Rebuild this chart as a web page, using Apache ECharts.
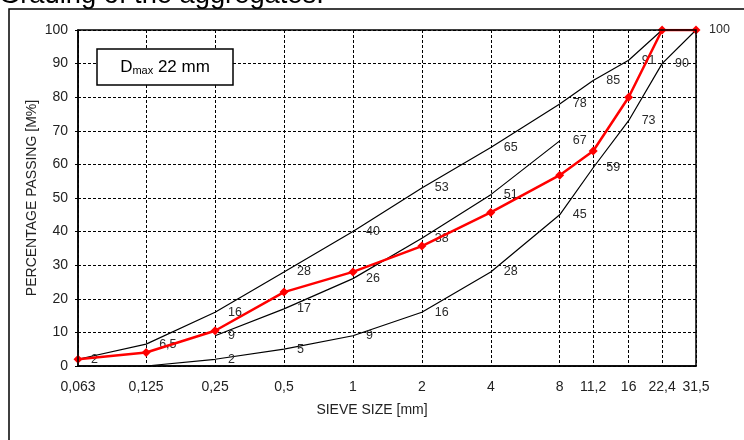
<!DOCTYPE html>
<html>
<head>
<meta charset="utf-8">
<script src="https://cdn.jsdelivr.net/npm/echarts@6/dist/echarts.min.js"></script>
<style>html,body{margin:0;padding:0;background:#fff}#c{width:744px;height:440px}</style>
</head>
<body>
<div id="c"></div>
<script>
var sieveSizes = [0.063, 0.125, 0.25, 0.5, 1, 2, 4, 8, 11.2, 16, 22.4, 31.5];
var sieveLabels = ['0,063', '0,125', '0,25', '0,5', '1', '2', '4', '8', '11,2', '16', '22,4', '31,5'];
var upperLimit = [2, 6.5, 16, 28, 40, 53, 65, 78, 85, 91, 100, 100];
var upperLabels = ['2', '6,5', '16', '28', '40', '53', '65', '78', '85', '91', '', '100'];
var middleCurve = [null, null, 9, 17, 26, 38, 51, 67, null, null, null, null];
var middleLabels = ['', '', '9', '17', '26', '38', '51', '67', '', '', '', ''];
var lowerLimit = [null, 0, 2, 5, 9, 16, 28, 45, 59, 73, 90, 100];
var lowerLabels = ['', '', '2', '5', '9', '16', '28', '45', '59', '73', '90', ''];
var mixCurve = [2, 4, 10.5, 22, 28, 35.7, 45.7, 56.8, 64, 80, 100, 100];
var yTicks = [0, 10, 20, 30, 40, 50, 60, 70, 80, 90, 100];

var FONT = 'Liberation Sans, Arial, sans-serif';
var xs = sieveSizes.map(function (s) { return Math.log2(s); });

function pts(vals) {
  var out = [];
  vals.forEach(function (v, i) { if (v !== null) out.push([xs[i], v, i]); });
  return out;
}
function xLabel(v) {
  var best = 0, d = Infinity;
  xs.forEach(function (x, i) { if (Math.abs(x - v) < d) { d = Math.abs(x - v); best = i; } });
  return sieveLabels[best];
}
function blackLine(vals, labels) {
  return {
    type: 'line',
    data: pts(vals),
    showSymbol: true,
    symbol: 'circle',
    symbolSize: 0.01,
    lineStyle: { color: '#000', width: 1.2 },
    itemStyle: { color: 'rgba(0,0,0,0)' },
    z: 3,
    label: {
      show: true,
      position: 'right',
      distance: 13,
      offset: [0, 1],
      color: '#2a2a2a',
      fontFamily: FONT,
      fontSize: 12.5,
      formatter: function (p) { return labels[p.data[2]]; }
    },
    labelLayout: { hideOverlap: false },
    animation: false
  };
}

var chart = echarts.init(document.getElementById('c'), null, { renderer: 'canvas' });
chart.setOption({
  animation: false,
  backgroundColor: '#fff',
  textStyle: { fontFamily: FONT },
  grid: { left: 78, right: 48, top: 30, bottom: 74, show: true, borderColor: '#000', borderWidth: 1.5, backgroundColor: 'transparent', z: 10 },
  xAxis: {
    type: 'value',
    min: xs[0],
    max: xs[xs.length - 1],
    name: 'SIEVE SIZE [mm]',
    nameLocation: 'middle',
    nameGap: 37,
    nameMoveOverlap: false,
    nameTextStyle: { color: '#222', fontSize: 14, fontFamily: FONT, padding: [0, 30, 0, 0] },
    axisLine: { show: true, onZero: false, lineStyle: { color: '#000', width: 1.5 } },
    axisTick: { show: false, customValues: xs },
    axisLabel: { customValues: xs, formatter: xLabel, color: '#222', fontSize: 14, fontFamily: FONT, margin: 14 },
    splitLine: { show: true, lineStyle: { color: '#000', width: 1, type: [3, 2] } }
  },
  yAxis: {
    type: 'value',
    min: yTicks[0],
    max: yTicks[yTicks.length - 1],
    interval: 10,
    name: 'PERCENTAGE PASSING [M%]',
    nameLocation: 'middle',
    nameGap: 39,
    nameMoveOverlap: false,
    nameTextStyle: { color: '#222', fontSize: 14, fontFamily: FONT },
    axisLine: { show: true, onZero: false, lineStyle: { color: '#000', width: 1.5 } },
    axisTick: { show: true, length: 3, lineStyle: { color: '#000' } },
    axisLabel: { color: '#222', fontSize: 14, fontFamily: FONT, margin: 10 },
    splitLine: { show: true, lineStyle: { color: '#000', width: 1, type: [3, 2] } }
  },
  graphic: [
    { type: 'rect', z: 0, zlevel: 0, silent: true, shape: { x: 9, y: 9, width: 800, height: 500 }, style: { fill: 'none', stroke: '#000', lineWidth: 1.5 } },
    { type: 'text', z: 100, silent: true, x: -1, y: -4.5, style: { text: 'Grading of the aggregates.', font: '27.3px ' + FONT, fill: '#000', verticalAlign: 'middle', align: 'left' } },
    { type: 'rect', z: 100, silent: true, shape: { x: 97, y: 49, width: 136, height: 36 }, style: { fill: '#fff', stroke: '#000', lineWidth: 1.5 } },
    { type: 'text', z: 101, silent: true, x: 165, y: 67, style: {
        text: '{d|D}{s|max}{d| 22 mm}',
        align: 'center', verticalAlign: 'middle',
        rich: {
          d: { fontSize: 17, fontFamily: FONT, fill: '#000', color: '#000' },
          s: { fontSize: 11, fontFamily: FONT, fill: '#000', color: '#000', padding: [8, 0, 0, 0] }
        }
      } }
  ],
  series: [
    blackLine(upperLimit, upperLabels),
    blackLine(middleCurve, middleLabels),
    blackLine(lowerLimit, lowerLabels),
    {
      type: 'line',
      data: pts(mixCurve),
      symbol: 'diamond',
      symbolSize: 9,
      showSymbol: true,
      lineStyle: { color: '#ff0000', width: 2.5 },
      itemStyle: { color: '#ff0000' },
      z: 5,
      label: { show: false },
      animation: false
    }
  ]
});
</script>
</body>
</html>
